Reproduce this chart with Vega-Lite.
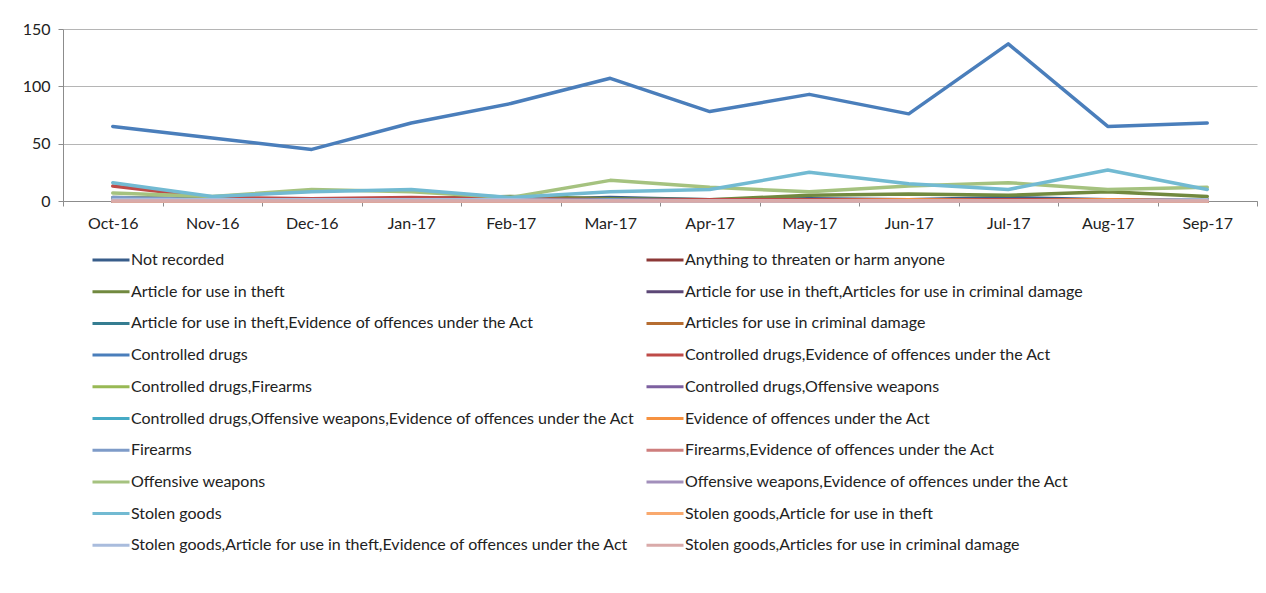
{
  "$schema": "https://vega.github.io/schema/vega-lite/v6.json",
  "width": 1194,
  "height": 172,
  "autosize": {"type": "none"},
  "padding": {"left": 63, "top": 29, "right": 9, "bottom": 392},
  "background": "white",
  "config": {
    "view": {"stroke": null},
    "font": "Lato",
    "axis": {"labelFont": "Lato", "labelColor": "#222", "labelFontSize": 16, "domainColor": "#8c8c8c", "tickColor": "#8c8c8c", "gridColor": "#b5b5b5"},
    "legend": {"labelFont": "Lato", "labelColor": "#222", "labelFontSize": 16}
  },
  "data": {"values": [
    {"m":"Oct-16","s":"Not recorded","v":2},{"m":"Nov-16","s":"Not recorded","v":1},{"m":"Dec-16","s":"Not recorded","v":2},{"m":"Jan-17","s":"Not recorded","v":1},{"m":"Feb-17","s":"Not recorded","v":1},{"m":"Mar-17","s":"Not recorded","v":3},{"m":"Apr-17","s":"Not recorded","v":1},{"m":"May-17","s":"Not recorded","v":2},{"m":"Jun-17","s":"Not recorded","v":1},{"m":"Jul-17","s":"Not recorded","v":3},{"m":"Aug-17","s":"Not recorded","v":1},{"m":"Sep-17","s":"Not recorded","v":1},
    {"m":"Oct-16","s":"Anything to threaten or harm anyone","v":1},{"m":"Nov-16","s":"Anything to threaten or harm anyone","v":0},{"m":"Dec-16","s":"Anything to threaten or harm anyone","v":0},{"m":"Jan-17","s":"Anything to threaten or harm anyone","v":1},{"m":"Feb-17","s":"Anything to threaten or harm anyone","v":0},{"m":"Mar-17","s":"Anything to threaten or harm anyone","v":0},{"m":"Apr-17","s":"Anything to threaten or harm anyone","v":0},{"m":"May-17","s":"Anything to threaten or harm anyone","v":1},{"m":"Jun-17","s":"Anything to threaten or harm anyone","v":0},{"m":"Jul-17","s":"Anything to threaten or harm anyone","v":0},{"m":"Aug-17","s":"Anything to threaten or harm anyone","v":1},{"m":"Sep-17","s":"Anything to threaten or harm anyone","v":0},
    {"m":"Oct-16","s":"Article for use in theft","v":3},{"m":"Nov-16","s":"Article for use in theft","v":2},{"m":"Dec-16","s":"Article for use in theft","v":2},{"m":"Jan-17","s":"Article for use in theft","v":2},{"m":"Feb-17","s":"Article for use in theft","v":4},{"m":"Mar-17","s":"Article for use in theft","v":2},{"m":"Apr-17","s":"Article for use in theft","v":1},{"m":"May-17","s":"Article for use in theft","v":5},{"m":"Jun-17","s":"Article for use in theft","v":6},{"m":"Jul-17","s":"Article for use in theft","v":5},{"m":"Aug-17","s":"Article for use in theft","v":8},{"m":"Sep-17","s":"Article for use in theft","v":4},
    {"m":"Oct-16","s":"Article for use in theft,Articles for use in criminal damage","v":0},{"m":"Nov-16","s":"Article for use in theft,Articles for use in criminal damage","v":0},{"m":"Dec-16","s":"Article for use in theft,Articles for use in criminal damage","v":0},{"m":"Jan-17","s":"Article for use in theft,Articles for use in criminal damage","v":0},{"m":"Feb-17","s":"Article for use in theft,Articles for use in criminal damage","v":0},{"m":"Mar-17","s":"Article for use in theft,Articles for use in criminal damage","v":0},{"m":"Apr-17","s":"Article for use in theft,Articles for use in criminal damage","v":0},{"m":"May-17","s":"Article for use in theft,Articles for use in criminal damage","v":0},{"m":"Jun-17","s":"Article for use in theft,Articles for use in criminal damage","v":0},{"m":"Jul-17","s":"Article for use in theft,Articles for use in criminal damage","v":0},{"m":"Aug-17","s":"Article for use in theft,Articles for use in criminal damage","v":0},{"m":"Sep-17","s":"Article for use in theft,Articles for use in criminal damage","v":0},
    {"m":"Oct-16","s":"Article for use in theft,Evidence of offences under the Act","v":0},{"m":"Nov-16","s":"Article for use in theft,Evidence of offences under the Act","v":0},{"m":"Dec-16","s":"Article for use in theft,Evidence of offences under the Act","v":0},{"m":"Jan-17","s":"Article for use in theft,Evidence of offences under the Act","v":0},{"m":"Feb-17","s":"Article for use in theft,Evidence of offences under the Act","v":0},{"m":"Mar-17","s":"Article for use in theft,Evidence of offences under the Act","v":0},{"m":"Apr-17","s":"Article for use in theft,Evidence of offences under the Act","v":0},{"m":"May-17","s":"Article for use in theft,Evidence of offences under the Act","v":0},{"m":"Jun-17","s":"Article for use in theft,Evidence of offences under the Act","v":0},{"m":"Jul-17","s":"Article for use in theft,Evidence of offences under the Act","v":0},{"m":"Aug-17","s":"Article for use in theft,Evidence of offences under the Act","v":0},{"m":"Sep-17","s":"Article for use in theft,Evidence of offences under the Act","v":0},
    {"m":"Oct-16","s":"Articles for use in criminal damage","v":0},{"m":"Nov-16","s":"Articles for use in criminal damage","v":0},{"m":"Dec-16","s":"Articles for use in criminal damage","v":1},{"m":"Jan-17","s":"Articles for use in criminal damage","v":0},{"m":"Feb-17","s":"Articles for use in criminal damage","v":0},{"m":"Mar-17","s":"Articles for use in criminal damage","v":0},{"m":"Apr-17","s":"Articles for use in criminal damage","v":0},{"m":"May-17","s":"Articles for use in criminal damage","v":0},{"m":"Jun-17","s":"Articles for use in criminal damage","v":1},{"m":"Jul-17","s":"Articles for use in criminal damage","v":0},{"m":"Aug-17","s":"Articles for use in criminal damage","v":1},{"m":"Sep-17","s":"Articles for use in criminal damage","v":0},
    {"m":"Oct-16","s":"Controlled drugs","v":65},{"m":"Nov-16","s":"Controlled drugs","v":55},{"m":"Dec-16","s":"Controlled drugs","v":45},{"m":"Jan-17","s":"Controlled drugs","v":68},{"m":"Feb-17","s":"Controlled drugs","v":85},{"m":"Mar-17","s":"Controlled drugs","v":107},{"m":"Apr-17","s":"Controlled drugs","v":78},{"m":"May-17","s":"Controlled drugs","v":93},{"m":"Jun-17","s":"Controlled drugs","v":76},{"m":"Jul-17","s":"Controlled drugs","v":137},{"m":"Aug-17","s":"Controlled drugs","v":65},{"m":"Sep-17","s":"Controlled drugs","v":68},
    {"m":"Oct-16","s":"Controlled drugs,Evidence of offences under the Act","v":13},{"m":"Nov-16","s":"Controlled drugs,Evidence of offences under the Act","v":3},{"m":"Dec-16","s":"Controlled drugs,Evidence of offences under the Act","v":2},{"m":"Jan-17","s":"Controlled drugs,Evidence of offences under the Act","v":3},{"m":"Feb-17","s":"Controlled drugs,Evidence of offences under the Act","v":2},{"m":"Mar-17","s":"Controlled drugs,Evidence of offences under the Act","v":1},{"m":"Apr-17","s":"Controlled drugs,Evidence of offences under the Act","v":1},{"m":"May-17","s":"Controlled drugs,Evidence of offences under the Act","v":1},{"m":"Jun-17","s":"Controlled drugs,Evidence of offences under the Act","v":1},{"m":"Jul-17","s":"Controlled drugs,Evidence of offences under the Act","v":1},{"m":"Aug-17","s":"Controlled drugs,Evidence of offences under the Act","v":1},{"m":"Sep-17","s":"Controlled drugs,Evidence of offences under the Act","v":1},
    {"m":"Oct-16","s":"Controlled drugs,Firearms","v":0},{"m":"Nov-16","s":"Controlled drugs,Firearms","v":0},{"m":"Dec-16","s":"Controlled drugs,Firearms","v":0},{"m":"Jan-17","s":"Controlled drugs,Firearms","v":0},{"m":"Feb-17","s":"Controlled drugs,Firearms","v":0},{"m":"Mar-17","s":"Controlled drugs,Firearms","v":0},{"m":"Apr-17","s":"Controlled drugs,Firearms","v":0},{"m":"May-17","s":"Controlled drugs,Firearms","v":0},{"m":"Jun-17","s":"Controlled drugs,Firearms","v":0},{"m":"Jul-17","s":"Controlled drugs,Firearms","v":0},{"m":"Aug-17","s":"Controlled drugs,Firearms","v":0},{"m":"Sep-17","s":"Controlled drugs,Firearms","v":0},
    {"m":"Oct-16","s":"Controlled drugs,Offensive weapons","v":0},{"m":"Nov-16","s":"Controlled drugs,Offensive weapons","v":0},{"m":"Dec-16","s":"Controlled drugs,Offensive weapons","v":0},{"m":"Jan-17","s":"Controlled drugs,Offensive weapons","v":0},{"m":"Feb-17","s":"Controlled drugs,Offensive weapons","v":0},{"m":"Mar-17","s":"Controlled drugs,Offensive weapons","v":0},{"m":"Apr-17","s":"Controlled drugs,Offensive weapons","v":0},{"m":"May-17","s":"Controlled drugs,Offensive weapons","v":0},{"m":"Jun-17","s":"Controlled drugs,Offensive weapons","v":0},{"m":"Jul-17","s":"Controlled drugs,Offensive weapons","v":0},{"m":"Aug-17","s":"Controlled drugs,Offensive weapons","v":0},{"m":"Sep-17","s":"Controlled drugs,Offensive weapons","v":0},
    {"m":"Oct-16","s":"Controlled drugs,Offensive weapons,Evidence of offences under the Act","v":0},{"m":"Nov-16","s":"Controlled drugs,Offensive weapons,Evidence of offences under the Act","v":0},{"m":"Dec-16","s":"Controlled drugs,Offensive weapons,Evidence of offences under the Act","v":0},{"m":"Jan-17","s":"Controlled drugs,Offensive weapons,Evidence of offences under the Act","v":0},{"m":"Feb-17","s":"Controlled drugs,Offensive weapons,Evidence of offences under the Act","v":0},{"m":"Mar-17","s":"Controlled drugs,Offensive weapons,Evidence of offences under the Act","v":0},{"m":"Apr-17","s":"Controlled drugs,Offensive weapons,Evidence of offences under the Act","v":0},{"m":"May-17","s":"Controlled drugs,Offensive weapons,Evidence of offences under the Act","v":0},{"m":"Jun-17","s":"Controlled drugs,Offensive weapons,Evidence of offences under the Act","v":0},{"m":"Jul-17","s":"Controlled drugs,Offensive weapons,Evidence of offences under the Act","v":0},{"m":"Aug-17","s":"Controlled drugs,Offensive weapons,Evidence of offences under the Act","v":0},{"m":"Sep-17","s":"Controlled drugs,Offensive weapons,Evidence of offences under the Act","v":0},
    {"m":"Oct-16","s":"Evidence of offences under the Act","v":1},{"m":"Nov-16","s":"Evidence of offences under the Act","v":0},{"m":"Dec-16","s":"Evidence of offences under the Act","v":0},{"m":"Jan-17","s":"Evidence of offences under the Act","v":0},{"m":"Feb-17","s":"Evidence of offences under the Act","v":0},{"m":"Mar-17","s":"Evidence of offences under the Act","v":0},{"m":"Apr-17","s":"Evidence of offences under the Act","v":0},{"m":"May-17","s":"Evidence of offences under the Act","v":0},{"m":"Jun-17","s":"Evidence of offences under the Act","v":1},{"m":"Jul-17","s":"Evidence of offences under the Act","v":0},{"m":"Aug-17","s":"Evidence of offences under the Act","v":1},{"m":"Sep-17","s":"Evidence of offences under the Act","v":0},
    {"m":"Oct-16","s":"Firearms","v":3},{"m":"Nov-16","s":"Firearms","v":1},{"m":"Dec-16","s":"Firearms","v":1},{"m":"Jan-17","s":"Firearms","v":1},{"m":"Feb-17","s":"Firearms","v":0},{"m":"Mar-17","s":"Firearms","v":1},{"m":"Apr-17","s":"Firearms","v":0},{"m":"May-17","s":"Firearms","v":0},{"m":"Jun-17","s":"Firearms","v":0},{"m":"Jul-17","s":"Firearms","v":0},{"m":"Aug-17","s":"Firearms","v":0},{"m":"Sep-17","s":"Firearms","v":1},
    {"m":"Oct-16","s":"Firearms,Evidence of offences under the Act","v":0},{"m":"Nov-16","s":"Firearms,Evidence of offences under the Act","v":0},{"m":"Dec-16","s":"Firearms,Evidence of offences under the Act","v":0},{"m":"Jan-17","s":"Firearms,Evidence of offences under the Act","v":0},{"m":"Feb-17","s":"Firearms,Evidence of offences under the Act","v":0},{"m":"Mar-17","s":"Firearms,Evidence of offences under the Act","v":0},{"m":"Apr-17","s":"Firearms,Evidence of offences under the Act","v":0},{"m":"May-17","s":"Firearms,Evidence of offences under the Act","v":0},{"m":"Jun-17","s":"Firearms,Evidence of offences under the Act","v":0},{"m":"Jul-17","s":"Firearms,Evidence of offences under the Act","v":0},{"m":"Aug-17","s":"Firearms,Evidence of offences under the Act","v":0},{"m":"Sep-17","s":"Firearms,Evidence of offences under the Act","v":0},
    {"m":"Oct-16","s":"Offensive weapons","v":7},{"m":"Nov-16","s":"Offensive weapons","v":4},{"m":"Dec-16","s":"Offensive weapons","v":10},{"m":"Jan-17","s":"Offensive weapons","v":8},{"m":"Feb-17","s":"Offensive weapons","v":3},{"m":"Mar-17","s":"Offensive weapons","v":18},{"m":"Apr-17","s":"Offensive weapons","v":12},{"m":"May-17","s":"Offensive weapons","v":8},{"m":"Jun-17","s":"Offensive weapons","v":13},{"m":"Jul-17","s":"Offensive weapons","v":16},{"m":"Aug-17","s":"Offensive weapons","v":10},{"m":"Sep-17","s":"Offensive weapons","v":12},
    {"m":"Oct-16","s":"Offensive weapons,Evidence of offences under the Act","v":0},{"m":"Nov-16","s":"Offensive weapons,Evidence of offences under the Act","v":0},{"m":"Dec-16","s":"Offensive weapons,Evidence of offences under the Act","v":0},{"m":"Jan-17","s":"Offensive weapons,Evidence of offences under the Act","v":0},{"m":"Feb-17","s":"Offensive weapons,Evidence of offences under the Act","v":0},{"m":"Mar-17","s":"Offensive weapons,Evidence of offences under the Act","v":0},{"m":"Apr-17","s":"Offensive weapons,Evidence of offences under the Act","v":0},{"m":"May-17","s":"Offensive weapons,Evidence of offences under the Act","v":0},{"m":"Jun-17","s":"Offensive weapons,Evidence of offences under the Act","v":0},{"m":"Jul-17","s":"Offensive weapons,Evidence of offences under the Act","v":0},{"m":"Aug-17","s":"Offensive weapons,Evidence of offences under the Act","v":0},{"m":"Sep-17","s":"Offensive weapons,Evidence of offences under the Act","v":0},
    {"m":"Oct-16","s":"Stolen goods","v":16},{"m":"Nov-16","s":"Stolen goods","v":4},{"m":"Dec-16","s":"Stolen goods","v":8},{"m":"Jan-17","s":"Stolen goods","v":10},{"m":"Feb-17","s":"Stolen goods","v":3},{"m":"Mar-17","s":"Stolen goods","v":8},{"m":"Apr-17","s":"Stolen goods","v":10},{"m":"May-17","s":"Stolen goods","v":25},{"m":"Jun-17","s":"Stolen goods","v":15},{"m":"Jul-17","s":"Stolen goods","v":10},{"m":"Aug-17","s":"Stolen goods","v":27},{"m":"Sep-17","s":"Stolen goods","v":10},
    {"m":"Oct-16","s":"Stolen goods,Article for use in theft","v":0},{"m":"Nov-16","s":"Stolen goods,Article for use in theft","v":0},{"m":"Dec-16","s":"Stolen goods,Article for use in theft","v":0},{"m":"Jan-17","s":"Stolen goods,Article for use in theft","v":0},{"m":"Feb-17","s":"Stolen goods,Article for use in theft","v":0},{"m":"Mar-17","s":"Stolen goods,Article for use in theft","v":0},{"m":"Apr-17","s":"Stolen goods,Article for use in theft","v":0},{"m":"May-17","s":"Stolen goods,Article for use in theft","v":0},{"m":"Jun-17","s":"Stolen goods,Article for use in theft","v":0},{"m":"Jul-17","s":"Stolen goods,Article for use in theft","v":0},{"m":"Aug-17","s":"Stolen goods,Article for use in theft","v":0},{"m":"Sep-17","s":"Stolen goods,Article for use in theft","v":0},
    {"m":"Oct-16","s":"Stolen goods,Article for use in theft,Evidence of offences under the Act","v":1},{"m":"Nov-16","s":"Stolen goods,Article for use in theft,Evidence of offences under the Act","v":1},{"m":"Dec-16","s":"Stolen goods,Article for use in theft,Evidence of offences under the Act","v":1},{"m":"Jan-17","s":"Stolen goods,Article for use in theft,Evidence of offences under the Act","v":1},{"m":"Feb-17","s":"Stolen goods,Article for use in theft,Evidence of offences under the Act","v":1},{"m":"Mar-17","s":"Stolen goods,Article for use in theft,Evidence of offences under the Act","v":0},{"m":"Apr-17","s":"Stolen goods,Article for use in theft,Evidence of offences under the Act","v":0},{"m":"May-17","s":"Stolen goods,Article for use in theft,Evidence of offences under the Act","v":0},{"m":"Jun-17","s":"Stolen goods,Article for use in theft,Evidence of offences under the Act","v":0},{"m":"Jul-17","s":"Stolen goods,Article for use in theft,Evidence of offences under the Act","v":0},{"m":"Aug-17","s":"Stolen goods,Article for use in theft,Evidence of offences under the Act","v":0},{"m":"Sep-17","s":"Stolen goods,Article for use in theft,Evidence of offences under the Act","v":1},
    {"m":"Oct-16","s":"Stolen goods,Articles for use in criminal damage","v":0},{"m":"Nov-16","s":"Stolen goods,Articles for use in criminal damage","v":0},{"m":"Dec-16","s":"Stolen goods,Articles for use in criminal damage","v":0},{"m":"Jan-17","s":"Stolen goods,Articles for use in criminal damage","v":0},{"m":"Feb-17","s":"Stolen goods,Articles for use in criminal damage","v":0},{"m":"Mar-17","s":"Stolen goods,Articles for use in criminal damage","v":0},{"m":"Apr-17","s":"Stolen goods,Articles for use in criminal damage","v":0},{"m":"May-17","s":"Stolen goods,Articles for use in criminal damage","v":0},{"m":"Jun-17","s":"Stolen goods,Articles for use in criminal damage","v":0},{"m":"Jul-17","s":"Stolen goods,Articles for use in criminal damage","v":0},{"m":"Aug-17","s":"Stolen goods,Articles for use in criminal damage","v":0},{"m":"Sep-17","s":"Stolen goods,Articles for use in criminal damage","v":0}
  ]},
  "mark": {"type": "line", "strokeWidth": 3.5, "strokeJoin": "round", "strokeCap": "round"},
  "encoding": {
    "x": {
      "field": "m", "type": "ordinal", "bandPosition": 0.5,
      "sort": ["Oct-16","Nov-16","Dec-16","Jan-17","Feb-17","Mar-17","Apr-17","May-17","Jun-17","Jul-17","Aug-17","Sep-17"],
      "scale": {"type": "band", "paddingInner": 0, "paddingOuter": 0},
      "axis": {"title": null, "labelAngle": 0, "tickBand": "extent", "tickSize": 5, "labelPadding": 9, "grid": false, "domainWidth": 1}
    },
    "y": {
      "field": "v", "type": "quantitative",
      "scale": {"domain": [0, 150], "nice": false, "zero": true},
      "axis": {"title": null, "values": [0, 50, 100, 150], "tickSize": 5, "labelPadding": 8, "grid": true, "gridWidth": 1}
    },
    "color": {
      "field": "s", "type": "nominal",
      "scale": {
        "domain": ["Not recorded","Anything to threaten or harm anyone","Article for use in theft","Article for use in theft,Articles for use in criminal damage","Article for use in theft,Evidence of offences under the Act","Articles for use in criminal damage","Controlled drugs","Controlled drugs,Evidence of offences under the Act","Controlled drugs,Firearms","Controlled drugs,Offensive weapons","Controlled drugs,Offensive weapons,Evidence of offences under the Act","Evidence of offences under the Act","Firearms","Firearms,Evidence of offences under the Act","Offensive weapons","Offensive weapons,Evidence of offences under the Act","Stolen goods","Stolen goods,Article for use in theft","Stolen goods,Article for use in theft,Evidence of offences under the Act","Stolen goods,Articles for use in criminal damage"],
        "range": ["#385D8A","#8C3836","#71893F","#5C4776","#357D91","#B66D31","#4A7EBB","#BE4B48","#98B954","#7D60A0","#46AAC5","#F69240","#7E9BC8","#CE7E7D","#A5C27F","#A28FBB","#72BAD2","#F9A96E","#A9BCDD","#D9AAA9"]
      },
      "legend": {
        "title": null, "orient": "none", "legendX": 28, "legendY": 211,
        "direction": "horizontal",
        "columns": 2, "columnPadding": 4, "rowPadding": 3.7,
        "symbolType": "stroke", "symbolSize": 1369, "symbolStrokeWidth": 3,
        "labelOffset": 0, "labelLimit": 700, "labelBaseline": "middle"
      }
    },
    "order": {"field": "s"}
  }
}
